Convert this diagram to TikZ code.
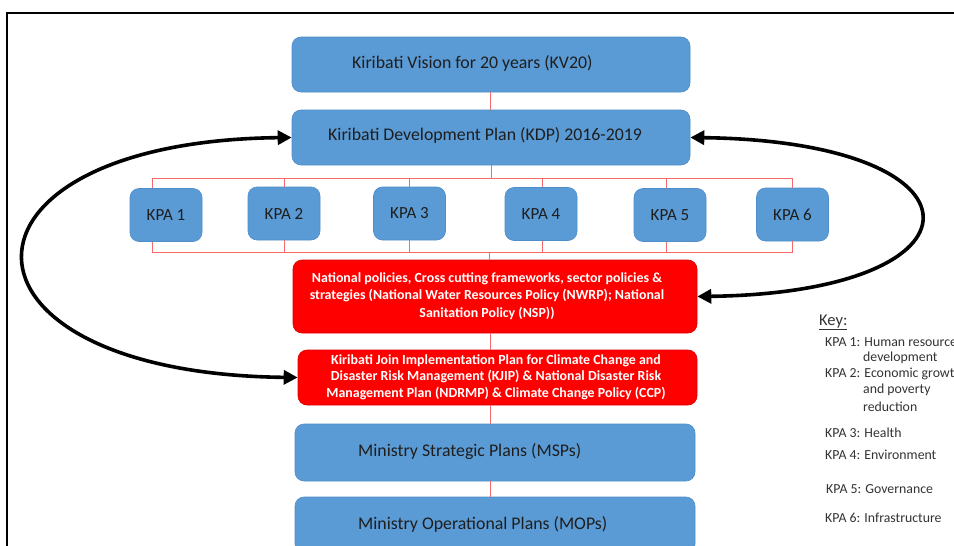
\documentclass[tikz,border=0pt]{standalone}
\usepackage{fontspec}
\setmainfont{Carlito}
\usetikzlibrary{arrows.meta,calc}
\definecolor{boxblue}{HTML}{5B9BD5}
\definecolor{boxblueedge}{HTML}{4F8DC8}
\definecolor{boxred}{HTML}{FF0000}
\definecolor{linkred}{HTML}{F46A6A}
\definecolor{keygrey}{HTML}{333333}
\definecolor{darktext}{HTML}{1E1E1E}
\tikzset{
  bluebox/.style={draw=boxblueedge, line width=0.6pt, fill=boxblue, rounded corners=9pt, inner sep=0pt},
  redbox/.style={draw=boxred!85!black, line width=0.6pt, fill=boxred, rounded corners=9pt, inner sep=0pt},
  kpabox/.style={bluebox, minimum width=72pt, minimum height=53pt, text=darktext, font=\fontsize{17}{19}\selectfont},
  bluetext/.style={anchor=west, text=darktext, inner sep=0pt, font=\fontsize{17.8}{20}\selectfont},
  redtext/.style={text=white, inner sep=0pt, align=center, font=\bfseries\fontsize{13.9}{17.5}\selectfont},
  link/.style={draw=linkred, line width=0.9pt},
  loop/.style={line width=3.6pt, {Triangle[length=14pt,width=14pt]}-{Triangle[length=14pt,width=14pt]}},
  keytext/.style={anchor=base west, text=keygrey, inner sep=0pt, font=\fontsize{13.8}{15}\selectfont},
}
\begin{document}
\begin{tikzpicture}[x=1pt,y=-1pt]
\useasboundingbox (0,0) rectangle (954,546);
\clip (0,0) rectangle (954,546);
\fill[white] (0,0) rectangle (954,546);
% frame
\draw[line width=1.8pt] (7,600) -- (7,13) -- (970,13);

% blue boxes
\node[bluebox, minimum width=398pt, minimum height=55pt] (kv) at (491,64.5) {};
\node[bluetext] (kvt) at (352,63) {Kiribati Vision for 20 years (KV20)};
\node[bluebox, minimum width=398pt, minimum height=55pt] (kdp) at (491,137.5) {};
\node[bluetext] (kdpt) at (328,135) {Kiribati Development Plan (KDP) 2016-2019};

% KPA boxes
\node[kpabox] (kpa1) at (166,215) {KPA 1};
\node[kpabox] (kpa2) at (284,213.5) {KPA 2};
\node[kpabox] (kpa3) at (409.5,213.5) {KPA 3};
\node[kpabox] (kpa4) at (541,214) {KPA 4};
\node[kpabox] (kpa5) at (670,215) {KPA 5};
\node[kpabox] (kpa6) at (792.5,214.5) {KPA 6};

% red boxes
\node[redbox, minimum width=404pt, minimum height=73pt] (nat) at (495,296.5) {};
\node[redtext] (natt) at (487,296) {National policies, Cross cutting frameworks, sector policies \&\\strategies (National Water Resources Policy (NWRP); National\\Sanitation Policy (NSP))};
\node[redbox, minimum width=399pt, minimum height=55pt] (kjip) at (497.5,377.5) {};
\node[redtext, font=\bfseries\fontsize{13.9}{16.6}\selectfont] (kjipt) at (496,377) {Kiribati Join Implementation Plan for Climate Change and\\Disaster Risk Management (KJIP) \& National Disaster Risk\\Management Plan (NDRMP) \& Climate Change Policy (CCP)};

% lower blue boxes
\node[bluebox, minimum width=400pt, minimum height=57pt] (msp) at (495,452.5) {};
\node[bluetext] (mspt) at (358,452) {Ministry Strategic Plans (MSPs)};
\node[bluebox, minimum width=400pt, minimum height=56pt] (mop) at (495,525) {};
\node[bluetext] (mopt) at (358,524) {Ministry Operational Plans (MOPs)};

% connectors
\coordinate (bustop) at (491,178);
\coordinate (busbot) at (489,252);
\draw[link] (kv.south -| 490,0) -- (kdp.north -| 490,0);
\draw[link] (kdp.south) -- (kdp.south |- bustop);
\draw[link] ([xshift=-14pt]kpa1.north) |- (kpa6.north |- bustop) -- (kpa6.north);
\draw[link] (kpa2.north) -- (kpa2.north |- bustop);
\draw[link] (kpa3.north) -- (kpa3.north |- bustop);
\draw[link] ([xshift=1pt]kpa4.north) -- ([xshift=1pt]kpa4.north |- bustop);
\draw[link] ([xshift=-4pt]kpa5.north) -- ([xshift=-4pt]kpa5.north |- bustop);
\draw[link] ([xshift=-14pt]kpa1.south) |- (kpa6.south |- busbot) -- (kpa6.south);
\draw[link] (kpa2.south) -- (kpa2.south |- busbot);
\draw[link] (kpa3.south) -- (kpa3.south |- busbot);
\draw[link] ([xshift=1pt]kpa4.south) -- ([xshift=1pt]kpa4.south |- busbot);
\draw[link] ([xshift=-4pt]kpa5.south) -- ([xshift=-4pt]kpa5.south |- busbot);
\draw[link] (busbot) -- (busbot |- nat.north);
\draw[link] (nat.south -| 490,0) -- (kjip.north -| 490,0);
\draw[link] (kjip.south -| 490,0) -- (msp.north -| 490,0);
\draw[link] (msp.south -| 490,0) -- (mop.north -| 490,0);

% feedback loops
\draw[loop] (kdp.west) .. controls +(-357,4) and +(-363,-4) .. (kjip.west);
\draw[loop] (kdp.east) .. controls +(305,4) and +(298,-4) .. (nat.east);

% key
\node[anchor=base west, text=keygrey, inner sep=0pt, font=\fontsize{16.5}{18}\selectfont] (key) at (819,325) {\underline{Key:}};
\node[keytext] (k1) at (825,346) {KPA 1: Human resource};
\node[keytext] (k1b) at (863,361) {development};
\node[keytext] (k2) at (825,377) {KPA 2: Economic growth};
\node[keytext] (k2b) at (863,393) {and poverty};
\node[keytext] (k2c) at (863,411) {reduction};
\node[keytext] (k3) at (825,437) {KPA 3: Health};
\node[keytext] (k4) at (825,459) {KPA 4: Environment};
\node[keytext] (k5) at (826,493) {KPA 5: Governance};
\node[keytext] (k6) at (825,522) {KPA 6: Infrastructure};
\end{tikzpicture}
\end{document}
